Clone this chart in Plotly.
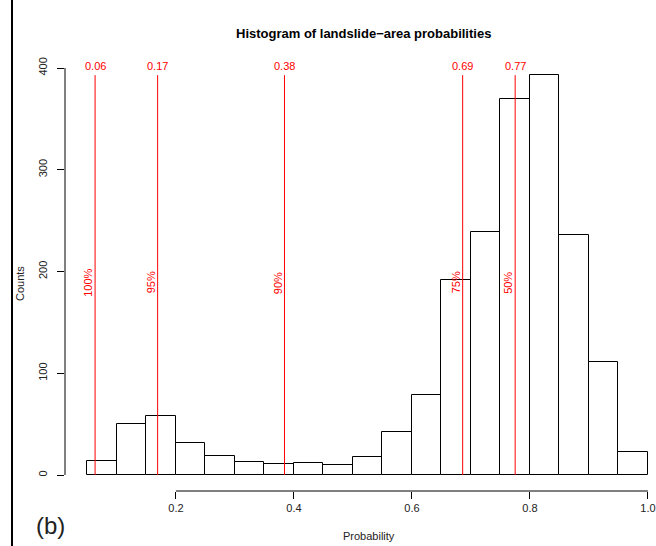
import plotly.graph_objects as go

# ---- data ----
bin_edges = [0.05, 0.10, 0.15, 0.20, 0.25, 0.30, 0.35, 0.40, 0.45, 0.50,
             0.55, 0.60, 0.65, 0.70, 0.75, 0.80, 0.85, 0.90, 0.95, 1.00]
counts = [14, 50, 58, 31, 19, 13, 11, 12, 10, 18,
          42, 79, 192, 239, 370, 393, 236, 111, 23]
quant_pos = [0.063, 0.169, 0.384, 0.686, 0.775]
quant_labels = ["0.06", "0.17", "0.38", "0.69", "0.77"]
pct_labels = ["100%", "95%", "90%", "75%", "50%"]
x_ticks = [0.2, 0.4, 0.6, 0.8, 1.0]
x_ticklabels = ["0.2", "0.4", "0.6", "0.8", "1.0"]
y_ticks = [0, 100, 200, 300, 400]
y_ticklabels = ["0", "100", "200", "300", "400"]

FONT = "Liberation Sans, Arial, Helvetica, sans-serif"
W, H = 656, 546
L, R, T, B = 65, 0, 59, 55
PW, PH = W - L - R, H - T - B


def px(x):
    return (x - L) / PW


def py(y):
    return (H - B - y) / PH


centers = [(a + b) / 2 for a, b in zip(bin_edges[:-1], bin_edges[1:])]
widths = [b - a for a, b in zip(bin_edges[:-1], bin_edges[1:])]

fig = go.Figure()
fig.add_trace(go.Bar(
    x=centers, y=counts, width=widths,
    marker=dict(color="white", line=dict(color="black", width=1)),
    hoverinfo="x+y", showlegend=False,
))

ymax = max(counts)
for xp in quant_pos:
    fig.add_trace(go.Scatter(
        x=[xp, xp], y=[0, ymax], mode="lines",
        line=dict(color="red", width=1), showlegend=False, hoverinfo="skip",
    ))

annotations = []
for xp, lab in zip(quant_pos, quant_labels):
    annotations.append(dict(x=xp, y=402, xref="x", yref="y", text=lab,
                            xanchor="center", yanchor="middle",
                            showarrow=False, font=dict(color="red", size=11, family=FONT)))
for xp, lab in zip(quant_pos, pct_labels):
    annotations.append(dict(x=xp, y=189, xref="x", yref="y", text=lab,
                            xanchor="center", yanchor="middle",
                            showarrow=False, textangle=-90, xshift=-7,
                            font=dict(color="red", size=11, family=FONT)))

annotations += [
    dict(x=px(363), y=py(33), xref="paper", yref="paper",
         text="<b>Histogram of landslide\u2212area probabilities</b>",
         xanchor="center", yanchor="middle",
         showarrow=False, font=dict(size=13, color="black", family=FONT)),
    dict(x=px(369), y=py(536), xref="paper", yref="paper", text="Probability",
         xanchor="center", yanchor="middle",
         showarrow=False, font=dict(size=11, color="#222", family=FONT)),
    dict(x=px(20), y=py(283), xref="paper", yref="paper", text="Counts",
         xanchor="center", yanchor="middle",
         textangle=-90, showarrow=False, font=dict(size=11, color="#222", family=FONT)),
    dict(x=px(50), y=py(525), xref="paper", yref="paper", text="(b)",
         xanchor="center", yanchor="middle",
         showarrow=False, font=dict(size=24, color="#222", family=FONT)),
]

shapes = [
    dict(type="line", xref="x", yref="paper", x0=x_ticks[0], x1=x_ticks[-1],
         y0=0, y1=0, line=dict(color="black", width=1)),
    dict(type="line", xref="paper", yref="y", x0=0, x1=0,
         y0=y_ticks[0], y1=y_ticks[-1], line=dict(color="black", width=1)),
    dict(type="line", xref="paper", yref="paper", x0=px(12), x1=px(12),
         y0=py(0), y1=py(H), line=dict(color="black", width=2)),
]

fig.update_layout(
    width=W, height=H,
    margin=dict(l=L, r=R, t=T, b=B),
    paper_bgcolor="white", plot_bgcolor="white",
    font=dict(family=FONT, size=11, color="#222"),
    bargap=0,
    annotations=annotations, shapes=shapes,
    showlegend=False,
)
fig.update_xaxes(
    range=[0.012, 0.012 + PW / 590.0],
    tickvals=x_ticks, ticktext=x_ticklabels,
    ticks="outside", ticklen=7, tickcolor="black", tickwidth=1,
    showgrid=False, zeroline=False, showline=False,
    tickfont=dict(size=11, color="#222", family=FONT),
)
fig.update_yaxes(
    range=[-15.72, -15.72 + PH / 1.0175],
    tickvals=y_ticks, ticktext=y_ticklabels,
    ticks="outside", ticklen=7, tickcolor="black", tickwidth=1,
    tickangle=-90, ticklabelstandoff=6,
    showgrid=False, zeroline=False, showline=False,
    tickfont=dict(size=11, color="#222", family=FONT),
)

fig.write_html(
    "out.html",
    config={"displayModeBar": False},
    post_script="document.body.style.margin='0';document.body.style.overflow='hidden';",
)
